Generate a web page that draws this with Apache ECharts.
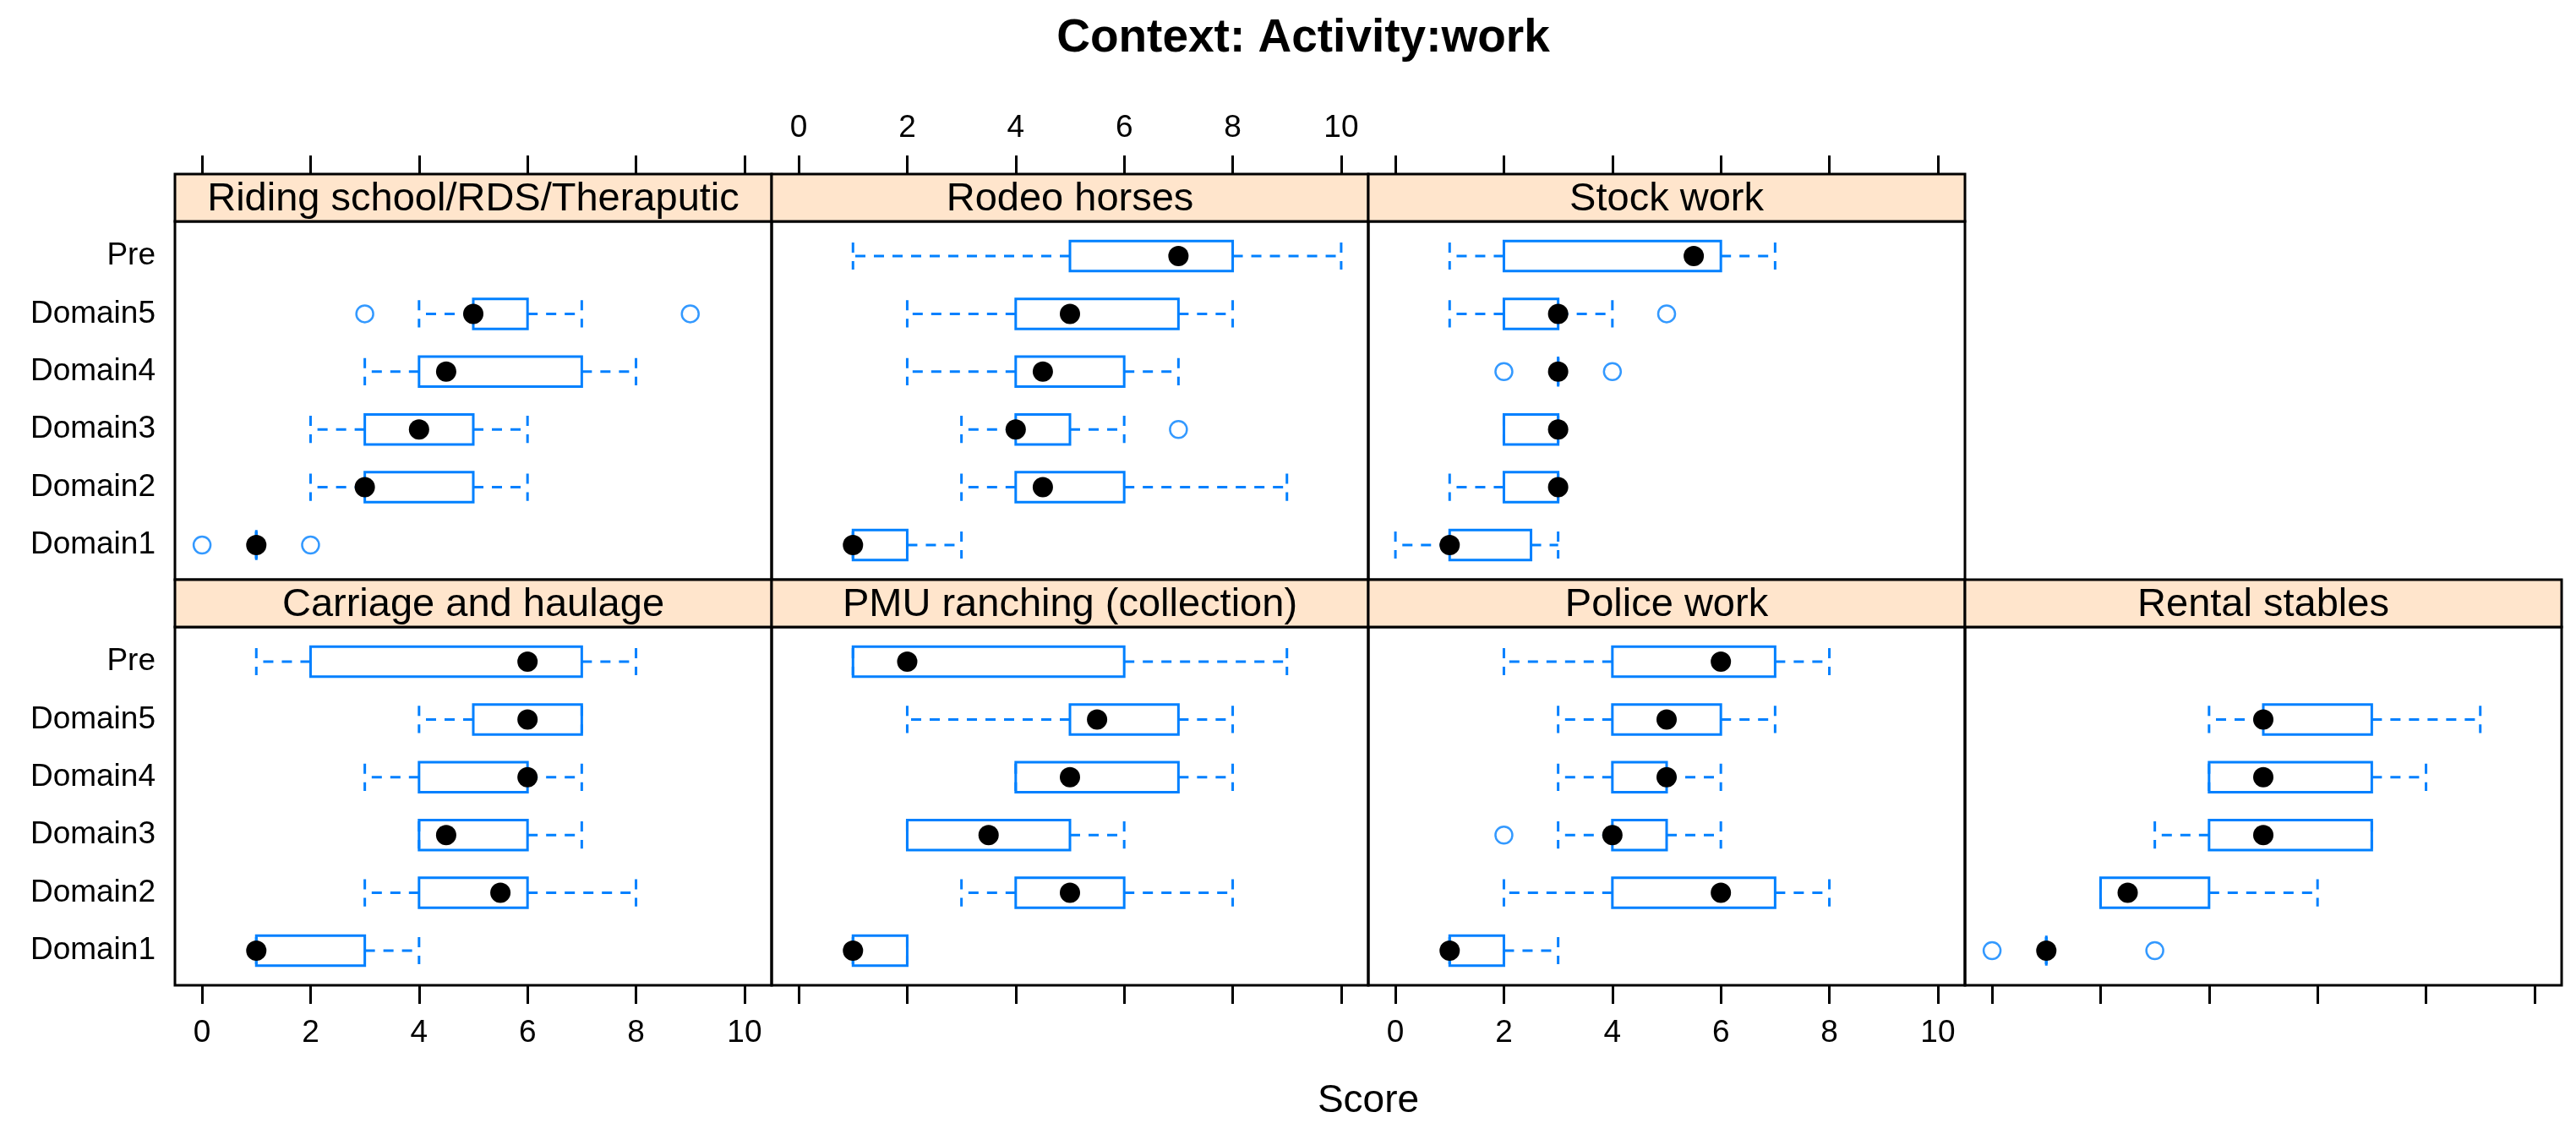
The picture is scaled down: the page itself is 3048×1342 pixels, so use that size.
<!DOCTYPE html>
<html>
<head>
<meta charset="utf-8">
<script src="https://cdn.jsdelivr.net/npm/echarts@6/dist/echarts.min.js"></script>
<style>
html,body{margin:0;padding:0;background:#fff;}
#chart{width:3048px;height:1342px;}
</style>
</head>
<body>
<div id="chart"></div>
<script>
// ---- data ----
const categories = ['Domain1', 'Domain2', 'Domain3', 'Domain4', 'Domain5', 'Pre'];
const xTickValues = [0, 2, 4, 6, 8, 10];
const chartTitle = 'Context: Activity:work';
const xAxisTitle = 'Score';

// each row: [low whisker, Q1, median, Q3, high whisker], ordered as categories (null = no data)
const ridingStats = [[1,1,1,1,1],[2,3,3,5,6],[2,3,4,5,6],[3,4,4.5,7,8],[4,5,5,6,7],null];
const ridingOutliers = [['Domain1',0],['Domain1',2],['Domain5',3],['Domain5',9]];

const rodeoStats = [[1,1,1,2,3],[3,4,4.5,6,9],[3,4,4,5,6],[2,4,4.5,6,7],[2,4,5,7,8],[1,5,7,8,10]];
const rodeoOutliers = [['Domain3',7]];

const stockStats = [[0,1,1,2.5,3],[1,2,3,3,3],[2,2,3,3,3],[3,3,3,3,3],[1,2,3,3,4],[1,2,5.5,6,7]];
const stockOutliers = [['Domain4',2],['Domain4',4],['Domain5',5]];

const carriageStats = [[1,1,1,3,4],[3,4,5.5,6,8],[4,4,4.5,6,7],[3,4,6,6,7],[4,5,6,7,7],[1,2,6,7,8]];
const carriageOutliers = [];

const pmuStats = [[1,1,1,2,2],[3,4,5,6,8],[2,2,3.5,5,6],[4,4,5,7,8],[2,5,5.5,7,8],[1,1,2,6,9]];
const pmuOutliers = [];

const policeStats = [[1,1,1,2,3],[2,4,6,7,8],[3,4,4,5,6],[3,4,5,5,6],[3,4,5,6,7],[2,4,6,7,8]];
const policeOutliers = [['Domain3',2]];

const rentalStats = [[1,1,1,1,1],[2,2,2.5,4,6],[3,4,5,7,7],[4,4,5,7,8],[4,5,5,7,9],null];
const rentalOutliers = [['Domain1',0],['Domain1',3]];

const panelNames = ['Riding school/RDS/Theraputic','Rodeo horses','Stock work',
  'Carriage and haulage','PMU ranching (collection)','Police work','Rental stables'];

// ---- layout ----
const FONT = '"Liberation Sans", Arial, sans-serif';
const BLUE = '#0080ff';
const colLeft = [207, 913, 1619, 2325];
const panelW = 706;
const stripTop = [206, 686];
const stripH = 56;
const plotH = 424;

const panels = [
  {name: panelNames[0], stats: ridingStats, out: ridingOutliers, row: 0, col: 0, xLab: false, yLab: true},
  {name: panelNames[1], stats: rodeoStats, out: rodeoOutliers, row: 0, col: 1, xLab: true, yLab: false},
  {name: panelNames[2], stats: stockStats, out: stockOutliers, row: 0, col: 2, xLab: false, yLab: false},
  {name: panelNames[3], stats: carriageStats, out: carriageOutliers, row: 1, col: 0, xLab: true, yLab: true},
  {name: panelNames[4], stats: pmuStats, out: pmuOutliers, row: 1, col: 1, xLab: false, yLab: false},
  {name: panelNames[5], stats: policeStats, out: policeOutliers, row: 1, col: 2, xLab: true, yLab: false},
  {name: panelNames[6], stats: rentalStats, out: rentalOutliers, row: 1, col: 3, xLab: false, yLab: false}
];

const grids = [], xAxes = [], yAxes = [], series = [], graphics = [];

function renderBox(params, api) {
  const yv = api.value(0);
  const lo = api.coord([api.value(1), yv]);
  const q1 = api.coord([api.value(2), yv]);
  const md = api.coord([api.value(3), yv]);
  const q3 = api.coord([api.value(4), yv]);
  const hi = api.coord([api.value(5), yv]);
  const unit = api.size([0, 1])[1];
  const cy = md[1];
  const boxH = unit * 0.52;
  const capH = unit * 0.47;
  const dash = {stroke: BLUE, lineWidth: 3, lineDash: [12, 10], fill: null};
  const children = [];
  children.push({type: 'line', shape: {x1: q1[0], y1: cy, x2: lo[0], y2: cy}, style: dash});
  children.push({type: 'line', shape: {x1: q3[0], y1: cy, x2: hi[0], y2: cy}, style: dash});
  children.push({type: 'line', shape: {x1: lo[0], y1: cy - capH / 2, x2: lo[0], y2: cy + capH / 2}, style: dash});
  children.push({type: 'line', shape: {x1: hi[0], y1: cy - capH / 2, x2: hi[0], y2: cy + capH / 2}, style: dash});
  children.push({type: 'rect', shape: {x: q1[0], y: cy - boxH / 2, width: q3[0] - q1[0], height: boxH},
    style: {fill: 'transparent', stroke: BLUE, lineWidth: 3}});
  children.push({type: 'circle', shape: {cx: md[0], cy: cy, r: 12}, style: {fill: '#000'}});
  return {type: 'group', children: children};
}

panels.forEach((p, i) => {
  const left = colLeft[p.col];
  const top = stripTop[p.row] + stripH;
  grids.push({left: left, top: top, width: panelW, height: plotH, show: true,
    borderColor: '#000', borderWidth: 3, backgroundColor: 'transparent', outerBoundsMode: 'none', containLabel: false});
  xAxes.push({
    gridIndex: i, type: 'value', min: -0.5, max: 10.5,
    position: p.row === 0 ? 'top' : 'bottom',
    offset: p.row === 0 ? stripH : 0,
    axisLine: {show: false},
    splitLine: {show: false},
    axisTick: {show: true, inside: false, length: 22, customValues: xTickValues, lineStyle: {color: '#000', width: 3}},
    axisLabel: {show: p.xLab, customValues: xTickValues, fontSize: 37, fontFamily: FONT, color: '#000',
      margin: p.row === 0 ? 36 : 38}
  });
  yAxes.push({
    gridIndex: i, type: 'value', min: 0.4, max: 6.6,
    axisLine: {show: false}, axisTick: {show: false}, splitLine: {show: false},
    axisLabel: {show: p.yLab, customValues: [1, 2, 3, 4, 5, 6], formatter: v => categories[Math.round(v) - 1],
      fontSize: 37, fontFamily: FONT, color: '#000', margin: 23}
  });
  const boxData = [];
  p.stats.forEach((s, k) => { if (s) boxData.push([k + 1].concat(s)); });
  series.push({
    type: 'custom', xAxisIndex: i, yAxisIndex: i, renderItem: renderBox,
    encode: {x: [1, 2, 3, 4, 5], y: 0}, data: boxData, z: 3, silent: true
  });
  series.push({
    type: 'scatter', xAxisIndex: i, yAxisIndex: i, symbol: 'circle', symbolSize: 20,
    itemStyle: {color: 'transparent', borderColor: BLUE, borderWidth: 2.5}, z: 4, silent: true,
    data: p.out.map(o => [o[1], categories.indexOf(o[0]) + 1])
  });
  graphics.push({
    type: 'rect', shape: {x: left, y: stripTop[p.row], width: panelW, height: stripH},
    style: {fill: '#ffe5cc', stroke: '#000', lineWidth: 3}, z: 10
  });
  graphics.push({
    type: 'text', x: left + panelW / 2, y: stripTop[p.row] + stripH / 2 + 2,
    style: {text: p.name, fontSize: 47, fontFamily: FONT, fill: '#000', align: 'center', verticalAlign: 'middle'}, z: 11
  });
});

graphics.push({type: 'text', x: 1542, y: 46,
  style: {text: chartTitle, fontSize: 55, fontWeight: 'bold', fontFamily: FONT, fill: '#000', align: 'center', verticalAlign: 'middle'}});
graphics.push({type: 'text', x: 1619, y: 1303,
  style: {text: xAxisTitle, fontSize: 46, fontFamily: FONT, fill: '#000', align: 'center', verticalAlign: 'middle'}});

const chart = echarts.init(document.getElementById('chart'), null, {renderer: 'canvas'});
chart.setOption({
  animation: false,
  backgroundColor: '#fff',
  grid: grids, xAxis: xAxes, yAxis: yAxes, series: series, graphic: graphics
});
</script>
</body>
</html>
